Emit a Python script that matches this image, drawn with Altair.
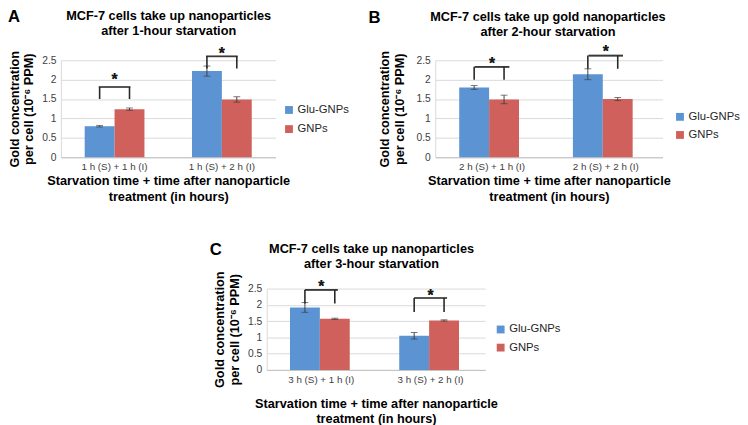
import altair as alt
import pandas as pd

FONT = "Liberation Sans"
SERIES = ["Glu-GNPs", "GNPs"]
COLORS = ["#5b93d3", "#d0605c"]

Y_TITLE = ["Gold concentration", "per cell (10\u207b\u2076 PPM)"]
X_TITLE = ["Starvation time + time after nanoparticle", "treatment (in hours)"]
Y_TICKS = [0, 0.5, 1, 1.5, 2, 2.5]

# Panel A
A_TITLE = ["MCF-7 cells take up nanoparticles", "after 1-hour starvation"]
A_CATS = ["1 h (S) + 1 h (I)", "1 h (S) + 2 h (I)"]
A_GLU = [0.80, 2.22]
A_GLU_ERR = [0.02, 0.13]
A_GNP = [1.24, 1.49]
A_GNP_ERR = [0.03, 0.07]
A_BR_TOP = [1.81, 2.60]
A_BR_BOT = [1.50, 2.29]
A_STAR = [2.09, 2.78]

# Panel B
B_TITLE = ["MCF-7 cells take up gold nanoparticles", "after 2-hour starvation"]
B_CATS = ["2 h (S) + 1 h (I)", "2 h (S) + 2 h (I)"]
B_GLU = [1.80, 2.14]
B_GLU_ERR = [0.05, 0.14]
B_GNP = [1.49, 1.50]
B_GNP_ERR = [0.11, 0.04]
B_BR_TOP = [2.33, 2.62]
B_BR_BOT = [2.00, 2.28]
B_STAR = [2.52, 2.83]

# Panel C
C_TITLE = ["MCF-7 cells take up nanoparticles", "after 3-hour starvation"]
C_CATS = ["3 h (S) + 1 h (I)", "3 h (S) + 2 h (I)"]
C_GLU = [1.92, 1.05]
C_GLU_ERR = [0.15, 0.10]
C_GNP = [1.57, 1.52]
C_GNP_ERR = [0.02, 0.02]
C_BR_TOP = [2.46, 2.21]
C_BR_BOT = [2.04, 1.78]
C_STAR = [2.68, 2.41]


def panel(cats, glu, gnp, glu_err, gnp_err, br_top, br_bot, star, title,
          w, h, pi, tx, ty, ypad, xlabpad, xtpad, xtlh, lx, ly, lrow,
          letter, letx, lety):
    rows = []
    for i, c in enumerate(cats):
        for s, v, e in ((SERIES[0], glu[i], glu_err[i]), (SERIES[1], gnp[i], gnp_err[i])):
            rows.append(dict(cat=c, series=s, value=v, lo=v - e, hi=v + e))
    df = pd.DataFrame(rows)
    br = []
    for i, c in enumerate(cats):
        for s in SERIES:
            br.append(dict(cat=c, series=s, top=br_top[i], bot=br_bot[i], star=star[i]))
    dfb = pd.DataFrame(br)

    xax = alt.Axis(title=X_TITLE, labelAngle=0, ticks=False, labelPadding=xlabpad,
                   titlePadding=xtpad, titleLineHeight=xtlh, labelFontSize=10,
                   labelColor="#404040", domainColor="#c0c0c0", grid=False,
                   titleFontSize=13, titleFontWeight="bold", titleColor="#000000")
    yax = alt.Axis(title=Y_TITLE, values=Y_TICKS, format="~g", ticks=False, grid=True,
                   gridColor="#d9d9d9", domainColor="#d9d9d9", labelPadding=5,
                   labelFontSize=10.5, labelColor="#404040", titlePadding=ypad,
                   titleLineHeight=15, titleFontSize=13, titleFontWeight="bold",
                   titleColor="#000000")
    xsc = alt.Scale(paddingInner=pi, paddingOuter=pi / 2)
    ysc = alt.Scale(domain=[0, 2.5], nice=False, zero=True)

    def X():
        return alt.X("cat:N", sort=cats, scale=xsc, axis=xax)

    def XO():
        return alt.XOffset("series:N", sort=SERIES,
                           scale=alt.Scale(domain=SERIES, paddingInner=0, paddingOuter=0))

    def Y(f):
        return alt.Y(f, scale=ysc, axis=yax)

    bars = alt.Chart(df).mark_bar().encode(
        x=X(), xOffset=XO(), y=Y("value:Q"),
        color=alt.Color("series:N", sort=SERIES,
                        scale=alt.Scale(domain=SERIES, range=COLORS),
                        legend=alt.Legend(title=None, orient="none", legendX=lx, legendY=ly,
                                          symbolType="square", symbolSize=64,
                                          symbolStrokeWidth=0, labelFontSize=11.5,
                                          labelOffset=3, rowPadding=lrow,
                                          labelColor="#262626", padding=0)))
    err = alt.Chart(df).mark_rule(color="#404040", strokeWidth=1).encode(
        x=X(), xOffset=XO(), y=Y("lo:Q"), y2="hi:Q")
    cap_lo = alt.Chart(df).mark_tick(color="#404040", thickness=1, size=7).encode(
        x=X(), xOffset=XO(), y=Y("lo:Q"))
    cap_hi = alt.Chart(df).mark_tick(color="#404040", thickness=1, size=7).encode(
        x=X(), xOffset=XO(), y=Y("hi:Q"))
    legs = alt.Chart(dfb).mark_rule(color="#262626", strokeWidth=1.6).encode(
        x=X(), xOffset=XO(), y=Y("bot:Q"), y2="top:Q")
    bar_w = w / 2 * (1 - pi) / 2
    topbar = alt.Chart(dfb).mark_tick(color="#262626", thickness=1.6, size=bar_w + 1.6).encode(
        x=X(), y=Y("top:Q"))
    stars = alt.Chart(dfb).mark_text(text="*", fontSize=16, fontWeight="bold", dy=4.5,
                                     color="#1a1a1a", font=FONT).encode(
        x=X(), y=Y("star:Q"))
    labels = pd.DataFrame({"letter": [letter], "title": [title]})
    let = alt.Chart(labels).mark_text(
        fontSize=17, fontWeight="bold", align="left", baseline="top", font=FONT,
        color="#000000").encode(x=alt.value(letx), y=alt.value(lety), text="letter:N")
    ttl = alt.Chart(labels).mark_text(
        fontSize=13, fontWeight="bold", align="center", baseline="top", font=FONT,
        lineHeight=15, color="#000000").encode(x=alt.value(tx), y=alt.value(ty), text="title")

    return alt.layer(bars, err, cap_lo, cap_hi, legs, topbar, stars, let, ttl).properties(
        width=w, height=h)


A = panel(A_CATS, A_GLU, A_GNP, A_GLU_ERR, A_GNP_ERR, A_BR_TOP, A_BR_BOT, A_STAR, A_TITLE,
          w=219, h=99, pi=0.443, tx=110, ty=-51, ypad=6, xlabpad=4, xtpad=4, xtlh=16,
          lx=227, ly=45, lrow=6.5, letter="A", letx=-54, lety=-52)
B = panel(B_CATS, B_GLU, B_GNP, B_GLU_ERR, B_GNP_ERR, B_BR_TOP, B_BR_BOT, B_STAR, B_TITLE,
          w=232, h=99, pi=0.422, tx=115, ty=-50, ypad=10, xlabpad=4, xtpad=4, xtlh=16,
          lx=244, ly=52, lrow=5.5, letter="B", letx=-68, lety=-51)
C = panel(C_CATS, C_GLU, C_GNP, C_GLU_ERR, C_GNP_ERR, C_BR_TOP, C_BR_BOT, C_STAR, C_TITLE,
          w=223, h=83, pi=0.426, tx=107, ty=-46, ypad=6, xlabpad=5, xtpad=13, xtlh=16,
          lx=233, ly=36, lrow=5.5, letter="C", letx=-58, lety=-47)

spacer = alt.Chart(pd.DataFrame({"a": [0]})).mark_point(opacity=0).encode(
    x=alt.X("a:Q", axis=None), y=alt.Y("a:Q", axis=None)).properties(width=1, height=1)

top = alt.hconcat(A, B, spacing=163, bounds="flush").resolve_scale(color="independent")
bottom = alt.hconcat(spacer, C, spacing=209, bounds="flush").resolve_scale(color="independent")

chart = alt.vconcat(top, bottom, spacing=233, bounds="flush").resolve_scale(
    color="independent"
).properties(
    padding={"left": 0, "top": -4, "right": 0, "bottom": 0},
    background="white",
).configure_view(stroke=None).configure_axis(
    labelFont=FONT, titleFont=FONT
).configure_legend(labelFont=FONT)

chart.save("out.html", embed_options={"renderer": "svg", "actions": False})
